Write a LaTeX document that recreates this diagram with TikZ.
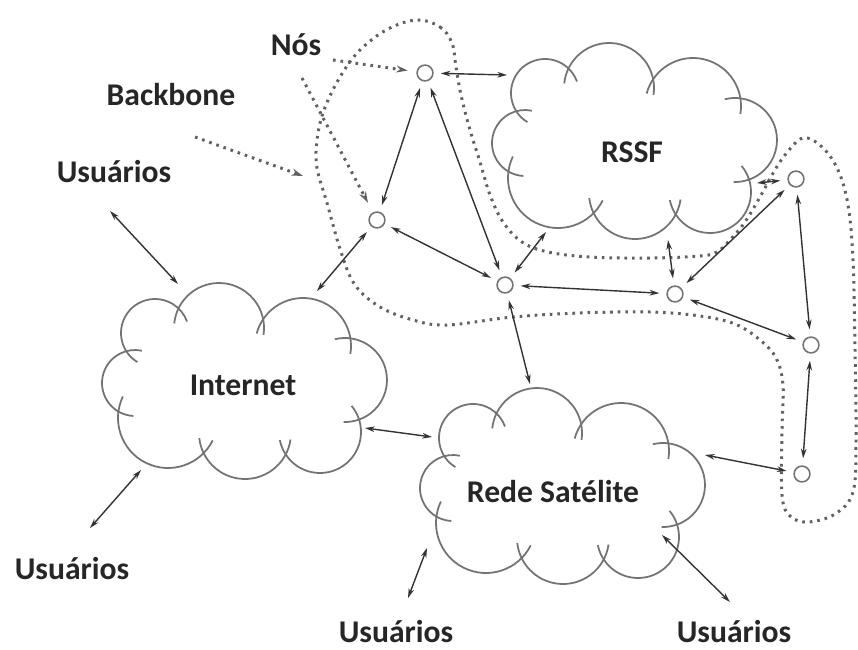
\documentclass[tikz,border=0pt]{standalone}
\usepackage{fontspec}
\setmainfont{Carlito}
\usetikzlibrary{arrows.meta,calc}

\tikzset{
  cloudline/.style={draw=black!55, line width=1pt},
  lbl/.style={font=\fontsize{18}{20}\selectfont\bfseries, text=black!85, inner sep=1pt, anchor=base},
  nd/.style={circle, draw=black!55, line width=0.9pt, inner sep=0pt, minimum size=9pt, fill=white},
  link/.style={draw=black!80, line width=0.8pt, {Stealth[length=5.5pt,width=3.2pt]}-{Stealth[length=5.5pt,width=3.2pt]}},
  sn/.style={shorten <=4pt},
  en/.style={shorten >=4pt},
  dots/.style={draw=black!62, line width=1.7pt, dash pattern=on 1.5pt off 2.8pt},
  dotarrow/.style={dots, -{Stealth[length=6.5pt,width=4pt]}},
}

% one bump of a cloud: previous circle (x,y,r), this circle (x,y,r), next circle (x,y,r)
\newcommand{\cbump}[9]{%
  \pgfmathsetmacro{\cbdxp}{(#1)-(#4)}%
  \pgfmathsetmacro{\cbdyp}{(#2)-(#5)}%
  \pgfmathsetmacro{\cbdp}{sqrt(\cbdxp*\cbdxp+\cbdyp*\cbdyp)}%
  \pgfmathsetmacro{\cbap}{(#6*#6-#3*#3+\cbdp*\cbdp)/(2*\cbdp)}%
  \pgfmathsetmacro{\cbphip}{acos(\cbap/#6)}%
  \pgfmathsetmacro{\cbangp}{atan2(\cbdyp,\cbdxp)}%
  \pgfmathsetmacro{\cbdxn}{(#7)-(#4)}%
  \pgfmathsetmacro{\cbdyn}{(#8)-(#5)}%
  \pgfmathsetmacro{\cbdn}{sqrt(\cbdxn*\cbdxn+\cbdyn*\cbdyn)}%
  \pgfmathsetmacro{\cban}{(#6*#6-#9*#9+\cbdn*\cbdn)/(2*\cbdn)}%
  \pgfmathsetmacro{\cbphin}{acos(\cban/#6)}%
  \pgfmathsetmacro{\cbangn}{atan2(\cbdyn,\cbdxn)}%
  \pgfmathsetmacro{\cbov}{900/#6}%
  \pgfmathsetmacro{\cbS}{\cbangp+\cbphip-\cbov}%
  \pgfmathsetmacro{\cbE}{\cbangn-\cbphin+\cbov}%
  \pgfmathsetmacro{\cbE}{\cbS+mod(\cbE-\cbS+720,360)}%
  \draw[cloudline] (#4,#5) ++(\cbS:#6) arc[start angle=\cbS, end angle=\cbE, radius=#6];%
}
\newcommand{\cloudshape}{%
  \cbump{-109}{2}{33}{-89}{-48}{34}{-25}{-53}{45}%
  \cbump{-89}{-48}{34}{-25}{-53}{45}{59}{-35}{48}%
  \cbump{-25}{-53}{45}{59}{-35}{48}{101}{-1}{42}%
  \cbump{59}{-35}{48}{101}{-1}{42}{76}{51}{41}%
  \cbump{101}{-1}{42}{76}{51}{41}{1}{52}{46}%
  \cbump{76}{51}{41}{1}{52}{46}{-76}{37}{50}%
  \cbump{1}{52}{46}{-76}{37}{50}{-109}{2}{33}%
  \cbump{-76}{37}{50}{-109}{2}{33}{-89}{-48}{34}%
}

\begin{document}
\begin{tikzpicture}[x=0.02cm, y=-0.02cm]
\fill[white] (0,0) rectangle (858,649);
\useasboundingbox (0,0) rectangle (858,649);

% backbone loop
\draw[dots] plot[smooth cycle, tension=0.6] coordinates {
 (417,20) (440,27) (452,43) (456,67) (461,95) (470,130) (480,162) (490,195)
 (503,222) (522,242) (548,252) (590,257) (650,258) (700,256) (717,252)
 (730,240) (745,222) (760,197) (772,175) (785,155) (803,138) (822,147)
 (838,170) (848,205) (853,260) (855,350) (856,440) (853,492) (835,514)
 (808,522) (790,516) (782,495) (782,430) (783,385) (776,358) (760,340)
 (735,324) (700,316) (650,312) (580,313) (513,317) (447,325) (413,320)
 (380,307) (355,285) (341,252) (327,203) (317,168) (317,140) (324,110)
 (340,77) (360,50) (388,29)};

% clouds
\begin{scope}[shift={(244,381)}] \cloudshape \end{scope}
\begin{scope}[shift={(634,141)}] \cloudshape \end{scope}
\begin{scope}[shift={(562,486)}] \cloudshape \end{scope}

% labels
\node[lbl] (nos) at (296,55) {Nós};
\node[lbl] (backbone) at (171,105) {Backbone};
\node[lbl] (u1) at (114,182) {Usuários};
\node[lbl] (u2) at (72,579) {Usuários};
\node[lbl] (u3) at (396,642) {Usuários};
\node[lbl] (u4) at (734,642) {Usuários};
\node[lbl] (inet) at (243,395) {Internet};
\node[lbl] (rssf) at (632,162) {RSSF};
\node[lbl] (sat) at (553,502) {Rede Satélite};

% small nodes
\node[nd] (n1) at (425,73) {};
\node[nd] (n2) at (377,220) {};
\node[nd] (n3) at (505,285) {};
\node[nd] (n4) at (675,294) {};
\node[nd] (n5) at (796,179) {};
\node[nd] (n6) at (811,345) {};
\node[nd] (n7) at (802,474) {};

% connector end points on clouds and near labels
\coordinate (ra) at (507,75);
\coordinate (rb) at (546,232);
\coordinate (rc) at (668,240);
\coordinate (rd) at (757,183);
\coordinate (ia) at (317,291);
\coordinate (ib) at (178,284);
\coordinate (ic) at (141,470);
\coordinate (id) at (365,428);
\coordinate (sa) at (432,437);
\coordinate (sb) at (530,384);
\coordinate (sc) at (705,455);
\coordinate (sd) at (427,548);
\coordinate (se) at (662,535);
\coordinate (u1e) at (110,211);
\coordinate (u2e) at (90,528);
\coordinate (u3e) at (408,598);
\coordinate (u4e) at (730,602);
\coordinate (nosA) at (333,60);
\coordinate (nosB) at (302,78);
\coordinate (bbA) at (195,137);
\coordinate (bbB) at (303,176);

% solid connectors
\draw[link,sn] (n1) -- (ra);
\draw[link,sn,en] (n1) -- (n2);
\draw[link,sn,en] (n1) -- (n3);
\draw[link,sn] (n2) -- (ia);
\draw[link,sn,en] (n2) -- (n3);
\draw[link,sn] (n3) -- (rb);
\draw[link,sn,en] (n3) -- (n4);
\draw[link,sn] (n3) -- (sb);
\draw[link,sn] (n4) -- (rc);
\draw[link,sn,en] (n4) -- (n5);
\draw[link,sn] (n5) -- (rd);
\draw[link,sn,en] (n5) -- (n6);
\draw[link,sn,en] (n4) -- (n6);
\draw[link,sn,en] (n6) -- (n7);
\draw[link,sn] (n7) -- (sc);
\draw[link] (id) -- (sa);
\draw[link] (u1e) -- (ib);
\draw[link] (u2e) -- (ic);
\draw[link] (u3e) -- (sd);
\draw[link] (u4e) -- (se);

% dotted pointers
\draw[dotarrow, shorten >=5pt] (nosA) -- (n1);
\draw[dotarrow, shorten >=6pt] (nosB) -- (n2);
\draw[dotarrow] (bbA) -- (bbB);
\end{tikzpicture}
\end{document}
